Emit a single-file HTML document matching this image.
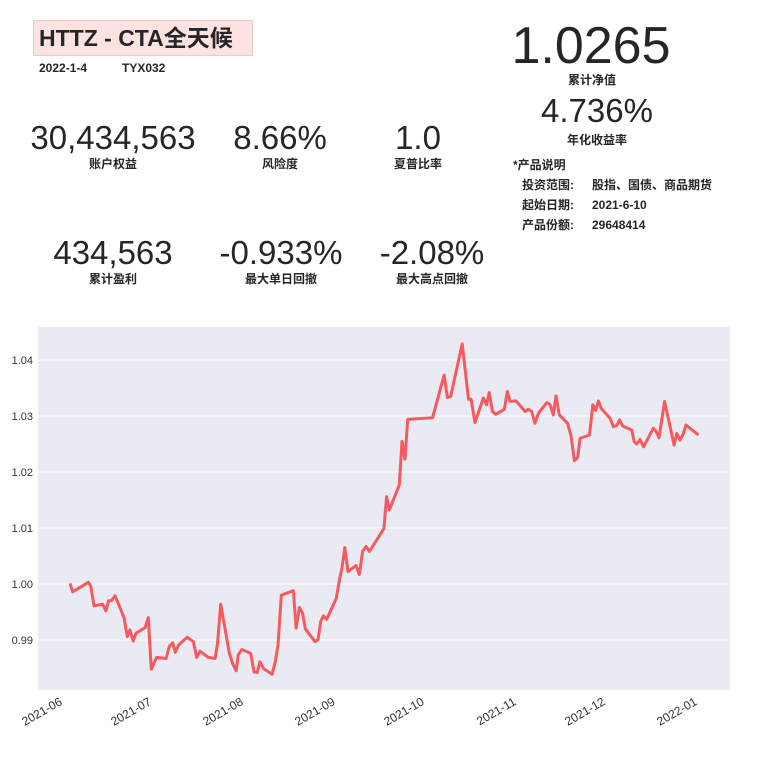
<!DOCTYPE html>
<html><head><meta charset="utf-8">
<style>
body{margin:0;width:768px;height:768px;background:#fff;position:relative;overflow:hidden;font-family:"Liberation Sans","Noto Sans CJK SC",sans-serif;color:#262626}
.a{position:absolute;white-space:nowrap}
.big{font-size:33px;transform:translateX(-50%);line-height:1}
.lab{font-size:12px;font-weight:bold;transform:translateX(-50%);line-height:1}
.sm{font-size:12px;font-weight:bold;line-height:1}
</style></head><body>
<div class="a" style="left:33px;top:20px;width:220px;height:36px;background:#fde2e2;border:1px solid #f3c8c8;box-sizing:border-box"></div>
<div class="a" style="left:39px;top:23px;font-size:23px;font-weight:bold;line-height:30px">HTTZ - CTA全天候</div>
<div class="a sm" style="left:39px;top:62px">2022-1-4</div>
<div class="a sm" style="left:122px;top:62px">TYX032</div>

<div class="a big" style="left:113px;top:121px">30,434,563</div>
<div class="a lab" style="left:113px;top:158px">账户权益</div>
<div class="a big" style="left:280px;top:121px">8.66%</div>
<div class="a lab" style="left:280px;top:158px">风险度</div>
<div class="a big" style="left:418px;top:121px">1.0</div>
<div class="a lab" style="left:418px;top:158px">夏普比率</div>

<div class="a big" style="left:113px;top:236px">434,563</div>
<div class="a lab" style="left:113px;top:273px">累计盈利</div>
<div class="a big" style="left:281px;top:236px">-0.933%</div>
<div class="a lab" style="left:281px;top:273px">最大单日回撤</div>
<div class="a big" style="left:432px;top:236px">-2.08%</div>
<div class="a lab" style="left:432px;top:273px">最大高点回撤</div>

<div class="a" style="left:591px;top:20px;font-size:52px;line-height:1;transform:translateX(-50%)">1.0265</div>
<div class="a lab" style="left:592px;top:74px">累计净值</div>
<div class="a big" style="left:597px;top:94px">4.736%</div>
<div class="a lab" style="left:597px;top:134px">年化收益率</div>
<div class="a sm" style="left:513px;top:159px">*产品说明</div>
<div class="a sm" style="left:522px;top:179px">投资范围:</div>
<div class="a sm" style="left:592px;top:179px">股指、国债、商品期货</div>
<div class="a sm" style="left:522px;top:199px">起始日期:</div>
<div class="a sm" style="left:592px;top:199px">2021-6-10</div>
<div class="a sm" style="left:522px;top:219px">产品份额:</div>
<div class="a sm" style="left:592px;top:219px">29648414</div>

<svg id="chart" class="a" style="left:0;top:0" width="768" height="768"></svg>
<script>
const dayOffsets=[2.7,3.6,8.9,9.7,10.8,13.7,14.8,15.7,16.6,17.9,20.9,22.0,22.9,24.0,24.9,28.0,29.1,30.1,31.9,35.1,36.2,37.3,38.2,39.3,42.2,44.3,45.4,46.5,49.3,51.6,52.4,53.5,56.4,57.5,58.7,59.4,60.6,63.6,64.7,65.8,66.7,67.9,70.8,71.9,72.8,73.9,78.0,78.9,80.0,81.1,82.0,85.3,86.3,87.2,88.1,89.2,92.4,93.5,94.4,95.3,96.4,99.1,100.2,101.3,102.5,103.6,108.5,109.4,110.3,113.7,114.6,115.6,116.5,124.9,128.8,129.9,131.0,134.9,137.0,137.9,139.2,142.0,143.1,144.0,145.1,146.2,149.1,150.1,151.0,153.0,156.1,157.2,158.3,159.4,160.6,163.4,164.5,165.6,166.5,167.6,170.4,171.6,172.7,173.8,174.6,177.8,178.9,179.8,180.8,181.7,184.7,185.8,187.0,187.9,189.0,192.0,192.9,193.7,194.8,196.0,199.3,200.2,201.2,203.1,206.3,207.2,208.3,209.4,210.3,214.5];
const navValues=[1.0001,0.9986,1.0003,0.9996,0.9961,0.9964,0.9952,0.9970,0.9970,0.9979,0.9940,0.9906,0.9918,0.9898,0.9912,0.9922,0.9940,0.9848,0.9869,0.9867,0.9889,0.9895,0.9878,0.9891,0.9905,0.9897,0.9869,0.9880,0.9869,0.9867,0.9894,0.9964,0.9877,0.9858,0.9845,0.9873,0.9883,0.9876,0.9843,0.9842,0.9861,0.9849,0.9839,0.9861,0.9891,0.9980,0.9988,0.9921,0.9958,0.9948,0.9920,0.9897,0.9901,0.9933,0.9943,0.9937,0.9974,1.0007,1.0030,1.0065,1.0022,1.0033,1.0017,1.0058,1.0067,1.0058,1.0099,1.0156,1.0132,1.0177,1.0255,1.0223,1.0294,1.0297,1.0373,1.0333,1.0335,1.0429,1.0330,1.0330,1.0288,1.0332,1.0320,1.0342,1.0308,1.0303,1.0312,1.0344,1.0326,1.0327,1.0308,1.0312,1.0308,1.0287,1.0305,1.0324,1.0320,1.0302,1.0336,1.0302,1.0287,1.0264,1.0220,1.0226,1.0260,1.0266,1.0320,1.0310,1.0327,1.0314,1.0296,1.0281,1.0283,1.0293,1.0282,1.0275,1.0254,1.0250,1.0258,1.0245,1.0278,1.0273,1.0261,1.0326,1.0248,1.0269,1.0257,1.0268,1.0284,1.0266];
const yTicks=[0.99,1.00,1.01,1.02,1.03,1.04];
const yTickLabels=["0.99","1.00","1.01","1.02","1.03","1.04"];
const xTickDays=[0,30,61,92,122,153,183,214];
const xTickLabels=["2021-06","2021-07","2021-08","2021-09","2021-10","2021-11","2021-12","2022-01"];

const svg=document.getElementById('chart');
const NS='http://www.w3.org/2000/svg';
const PL=38,PR=730,PT=327,PB=690;
function xs(d){return 62+d*2.967;}
function ys(v){return 584-(v-1)*5600;}
function mk(t,a){const e=document.createElementNS(NS,t);for(const k in a)e.setAttribute(k,a[k]);svg.appendChild(e);return e;}
const bg=mk('rect',{x:PL,y:PT,width:PR-PL,height:PB-PT,fill:'#eaeaf2'});


yTicks.forEach((v,i)=>{
  const g=mk('line',{x1:PL,x2:PR,y1:ys(v),y2:ys(v),stroke:'#fff','stroke-width':1});
  
  
  const t=mk('text',{x:33,y:ys(v)+4,'text-anchor':'end','font-size':11,fill:'#333','font-family':'Liberation Sans, sans-serif'});
  t.textContent=yTickLabels[i];
  
  
});
xTickDays.forEach((d,i)=>{
  const x=xs(d)+1;
  const t=mk('text',{x:x,y:704,'text-anchor':'end','font-size':12,fill:'#333','font-family':'Liberation Sans, sans-serif',transform:'rotate(-30 '+x+' 704)'});
  t.textContent=xTickLabels[i];
  
  
});
const pts=dayOffsets.map((d,i)=>xs(d).toFixed(1)+','+ys(navValues[i]).toFixed(1)).join(' ');
const line=mk('polyline',{points:pts,fill:'none',stroke:'#f55a5f','stroke-width':3,'stroke-linejoin':'round'});


</script>
</body></html>
